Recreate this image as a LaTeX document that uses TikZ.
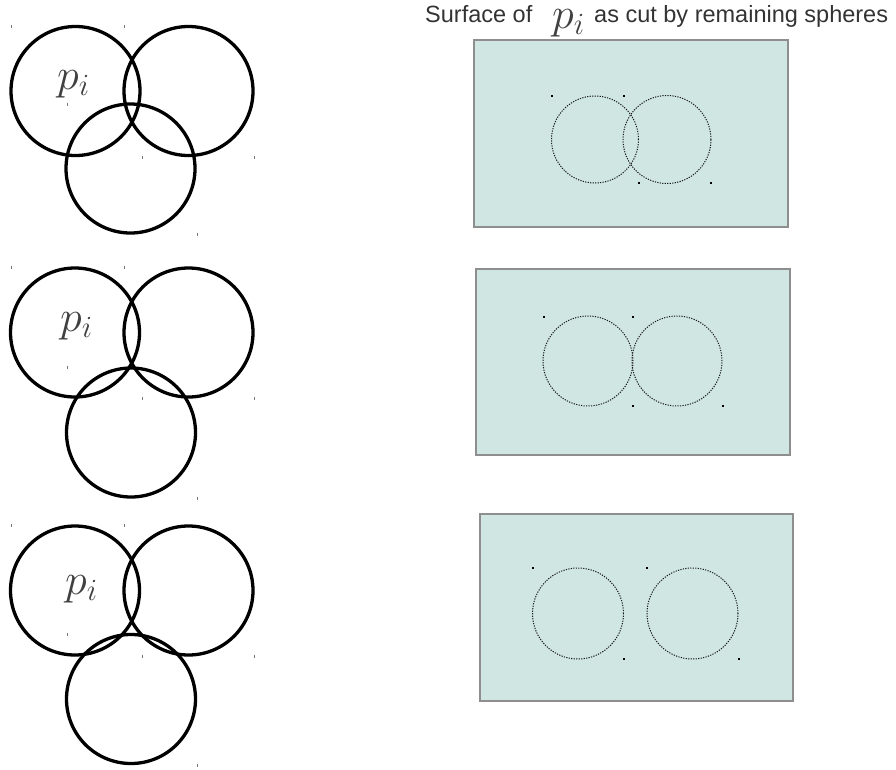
\RequirePackage{fix-cm}
\documentclass[tikz,border=0pt]{standalone}
\usepackage{fontspec}
\newfontfamily\titlefont{Liberation Sans}
\definecolor{surffill}{HTML}{CFE6E3}
\definecolor{boxedge}{HTML}{8E8E8E}
\definecolor{labgray}{HTML}{404040}
\definecolor{titlegray}{HTML}{333333}
\definecolor{tickgray}{HTML}{777777}
\begin{document}
\begin{tikzpicture}[x=1pt,y=-1pt,
  sphere/.style={circle,draw=black,line width=3.3pt,inner sep=0pt,minimum size=129pt},
  cutline/.style={circle,draw=black!90,line width=1pt,dash pattern=on 1.2pt off 1.3pt,inner sep=0pt},
  surf/.style={rectangle,draw=boxedge,line width=1.3pt,fill=surffill,inner sep=0pt,minimum width=314pt,minimum height=187pt},
  plabel/.style={anchor=base west,inner sep=0pt,text=labgray,font=\fontsize{44}{44}\selectfont},
  titletext/.style={anchor=base west,inner sep=0pt,text=titlegray,font=\titlefont\fontsize{23.5}{28}\selectfont},
  tickmark/.style={draw=tickgray,line width=0.9pt},
  dotmark/.style={fill=black}
]
\useasboundingbox (0,0) rectangle (896,769);

% title
\node[titletext] (t1) at (425,22) {Surface of};
\node[plabel] (tp) at (552,28) {$p_i$};
\node[titletext] (t2) at (594,22) {as cut by remaining spheres};

% left column: three spheres per row
\node[sphere] (a1) at (75.5,91) {};
\node[sphere] (b1) at (188.5,91) {};
\node[sphere] (c1) at (130.5,168.5) {};
\node[plabel] (l1) at (57,89) {$p_i$};

\node[sphere] (a2) at (75,332.5) {};
\node[sphere] (b2) at (188.5,332.5) {};
\node[sphere] (c2) at (131,432.5) {};
\node[plabel] (l2) at (60,331) {$p_i$};

\node[sphere] (a3) at (75,590.5) {};
\node[sphere] (b3) at (188.5,590.5) {};
\node[sphere] (c3) at (131,699) {};
\node[plabel] (l3) at (65,594) {$p_i$};

\foreach \x/\y in {11/26,124/26,67/104,142/157,254/157,197/234,
                   11/267,124/267,67/367,142/398,254/398,197/498,
                   11/525,124/525,67/634,142/656,254/656,197/765}
  \draw[tickmark] (\x,\y) ++(0,-1.5) -- ++(0,3);

% right column: surfaces
\node[surf] (s1) at (631,133.5) {};
\node[cutline,minimum size=87pt] (d1a) at (595,139.5) {};
\node[cutline,minimum size=88pt] (d1b) at (667,139.5) {};

\node[surf,minimum height=186pt] (s2) at (633,362) {};
\node[cutline,minimum size=90pt] (d2a) at (588,361) {};
\node[cutline,minimum size=90pt] (d2b) at (677,361) {};

\node[surf,minimum width=313pt] (s3) at (636.5,607.5) {};
\node[cutline,minimum size=91pt] (d3a) at (578,613.5) {};
\node[cutline,minimum size=91pt] (d3b) at (692.5,613.5) {};

\foreach \x/\y in {552/96,624/96,639/183,711/183,
                   544/317,633/317,633/406,723/406,
                   533/568,647/568,624/659,739/659}
  \fill[dotmark] (\x,\y) ++(-0.8,-0.8) rectangle ++(1.6,1.6);
\end{tikzpicture}
\end{document}
